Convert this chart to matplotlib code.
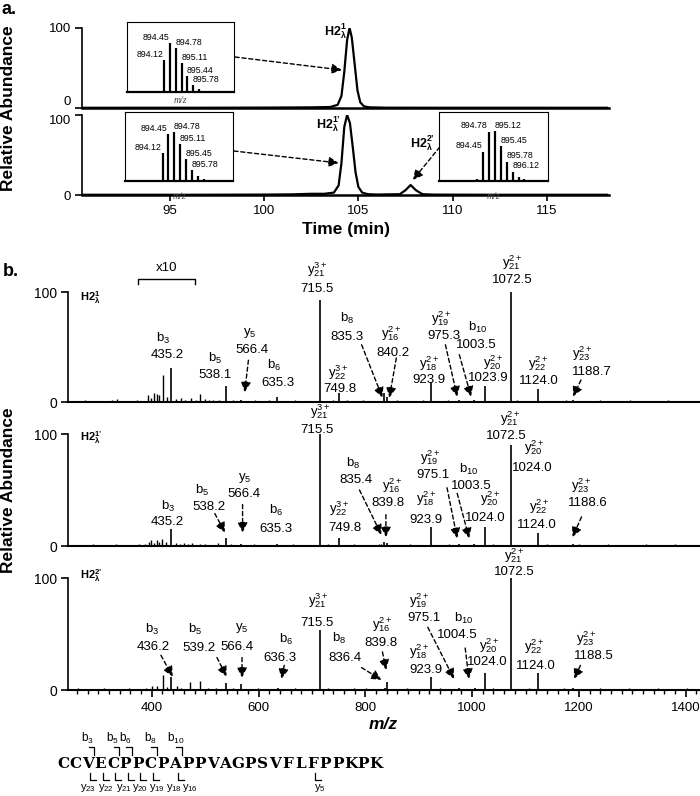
import matplotlib
matplotlib.use("Agg")
from matplotlib import pyplot as plt
from matplotlib.ticker import MultipleLocator

plt.rcParams["font.family"] = ["Liberation Sans", "DejaVu Sans"]
plt.rcParams["mathtext.fontset"] = "custom"
plt.rcParams["mathtext.rm"] = "Liberation Sans"
plt.rcParams["mathtext.it"] = "Liberation Sans:italic"
plt.rcParams["mathtext.bf"] = "Liberation Sans:bold"

W, H = 700, 796

# ---------------- panel a: extracted ion chromatograms ----------------
xic1_time = [90.4, 96, 100, 102.5, 103.5, 103.9, 104.1, 104.25, 104.4, 104.53, 104.65,
             104.8, 104.95, 105.1, 105.3, 105.6, 106.5, 110, 118.2]
xic1_int = [0.3, 0.3, 0.5, 0.8, 1.2, 4, 15, 45, 85, 100, 88, 55, 22, 7, 2, 0.8, 0.4, 0.3, 0.3]

xic2_time = [90.4, 96, 100, 101.5, 102.5, 103.2, 103.7, 103.95, 104.1, 104.25, 104.4, 104.55,
             104.7, 104.85, 105.0, 105.2, 105.5, 106, 107.2, 107.5, 107.77, 108.05, 108.4,
             109, 112, 118.2]
xic2_int = [0.3, 0.3, 0.5, 0.8, 1.5, 1.5, 3, 12, 40, 85, 100, 90, 60, 28, 10, 3, 1, 0.6, 1,
            6, 12.5, 6, 1, 0.5, 0.3, 0.3]
time_ticks = [95, 100, 105, 110, 115]

# isotope envelopes shown in the insets
iso1_mz = [894.12, 894.45, 894.78, 895.11, 895.44, 895.78, 896.11, 896.44]
iso1_int = [65, 100, 89, 59, 32, 14, 7, 2]
iso1_lab = ["894.12", "894.45", "894.78", "895.11", "895.44", "895.78", "", ""]

iso2_mz = [894.12, 894.45, 894.78, 895.11, 895.45, 895.78, 896.11, 896.44]
iso2_int = [57, 97, 100, 75, 44, 22, 10, 4]
iso2_lab = ["894.12", "894.45", "894.78", "895.11", "895.45", "895.78", "", ""]

iso3_mz = [894.12, 894.45, 894.78, 895.12, 895.45, 895.78, 896.12, 896.45, 896.78]
iso3_int = [4, 59, 99, 100, 70, 39, 19, 9, 4]
iso3_lab = ["", "894.45", "894.78", "895.12", "895.45", "895.78", "896.12", "", ""]

# ---------------- panel b: MS/MS spectra ----------------
spec1_mz = [435.2, 538.1, 566.4, 635.3, 715.5, 749.8, 835.3, 840.2, 923.9, 975.3, 1003.5,
            1023.9, 1072.5, 1124.0, 1188.7]
spec1_int = [31, 15, 2, 5, 93, 8, 8, 5, 18, 2, 1.5, 15, 100, 12, 2]
minor1_mz = [262, 275, 288, 300, 312, 326, 335, 348, 360, 372, 383, 392, 398, 404, 409, 414,
             421, 428, 446, 455, 462, 474, 482, 490, 499, 507, 515, 525, 552, 580, 594, 610,
             620, 652, 668, 684, 700, 726, 740, 765, 780, 796, 812, 826, 860, 878, 893, 908,
             940, 955, 985, 1012, 1040, 1058, 1085, 1100, 1112, 1140, 1160, 1175, 1205, 1222,
             1240, 1258, 1276, 1295, 1312, 1330, 1348, 1366, 1384, 1402]
minor1_int = [1, 1.5, 1, 1.2, 1, 1.5, 3, 1.2, 1, 1.5, 1.2, 6, 4, 8, 7, 6, 25, 5, 3, 4, 2, 4,
              2, 7, 3, 2, 2, 1.5, 1.5, 1.2, 1.5, 1, 1.5, 1.2, 1.5, 1, 1.2, 1, 1.5, 1.5, 1.2,
              1.5, 1, 1.2, 1.5, 1.2, 1, 1.5, 1.2, 1.5, 1.2, 1.2, 1, 1.2, 1.5, 1.2, 1, 1.2, 1,
              1.5, 1.2, 1, 1.5, 1.2, 1, 1.5, 1.2, 1, 1.2, 1.5, 1, 1.2]

spec2_mz = [435.2, 538.2, 566.4, 635.3, 715.5, 749.8, 835.4, 839.8, 923.9, 975.1, 1003.5,
            1024.0, 1072.5, 1124.0, 1188.6]
spec2_int = [15, 7, 1.5, 2, 100, 7, 4, 3, 17, 1.5, 1.5, 17, 90, 12, 1.5]
minor2_mz = [262, 275, 290, 305, 318, 333, 347, 362, 376, 388, 394, 399, 404, 409, 414, 420,
             426, 446, 452, 460, 468, 476, 490, 500, 512, 524, 548, 560, 578, 592, 606, 622,
             648, 664, 680, 696, 730, 742, 760, 778, 795, 812, 826, 830, 850, 866, 884, 900,
             912, 940, 956, 990, 1012, 1040, 1056, 1090, 1106, 1140, 1156, 1172, 1200, 1218,
             1236, 1254, 1272, 1290, 1308, 1326, 1344, 1362, 1380, 1398, 1414]
minor2_int = [1.2, 1, 1.5, 1.2, 1, 1.5, 1.2, 1, 1.5, 2, 4, 5, 3, 5, 4, 6, 4, 3, 2, 3, 2, 2.5,
              2, 1.5, 1.2, 3, 1.5, 1.2, 1, 1.5, 1.2, 1, 1.2, 1.5, 1, 1.2, 1.5, 1.2, 1, 1.5,
              1.2, 1, 1.5, 2, 1.2, 1, 1.5, 1.2, 1, 1.2, 1.5, 1.2, 1, 1.5, 1.2, 1, 1.2, 1.5, 1,
              1.2, 1.5, 1.2, 1, 1.5, 1.2, 1, 1.2, 1.5, 1, 1.2, 1.5, 1, 1.2]

spec3_mz = [436.2, 539.2, 566.4, 636.3, 715.5, 836.4, 839.8, 923.9, 975.1, 1004.5, 1024.0,
            1072.5, 1124.0, 1188.5]
spec3_int = [12, 6, 5, 2, 54, 2, 7, 12, 1.5, 1.5, 15, 100, 15, 1.5]
minor3_mz = [262, 278, 294, 310, 326, 342, 358, 374, 390, 400, 410, 421, 428, 447, 455, 471,
             490, 505, 520, 552, 580, 598, 615, 650, 668, 690, 730, 745, 760, 778, 801, 818,
             860, 878, 895, 910, 940, 958, 990, 1040, 1056, 1090, 1106, 1140, 1156, 1172, 1205,
             1222, 1240, 1258, 1276, 1294, 1312, 1330, 1348, 1366, 1384, 1402]
minor3_int = [1.5, 1.2, 1, 1.5, 1.2, 1, 1.5, 1.2, 2, 4, 4, 13, 3, 4, 2, 7, 8, 2, 1.5, 1.5, 1.2,
              1.5, 1.2, 1, 1.5, 1.2, 1.5, 1.2, 1, 1.5, 2, 1.2, 1, 1.5, 1.2, 1, 1.5, 1.2, 1,
              1.5, 1.2, 1, 1.5, 1.2, 1, 1.5, 1.2, 1, 1.5, 1.2, 1, 1.5, 1.2, 1, 1.5, 1.2, 1,
              1.5]
mz_ticks = [400, 600, 800, 1000, 1200, 1400]

# fragment annotations: ion, value, name pos, value pos (m/z, %), dashed arrow
spec1_labels = [
    ("b_{3}", "435.2", (421, 58), (428, 43), None),
    ("b_{5}", "538.1", (518, 40), (518, 25), None),
    ("y_{5}", "566.4", (583, 63), (587, 47), ((581, 38), (574, 9))),
    ("b_{6}", "635.3", (630, 33), (636, 17), None),
    ("y_{21}^{3+}", "715.5", (710, 120), (709, 103), None),
    ("y_{22}^{3+}", "749.8", (750, 27), (752, 12), None),
    ("b_{8}", "835.3", (766, 76), (766, 59), ((793, 52), (832, 4))),
    ("y_{16}^{2+}", "840.2", (849, 62), (851, 45), ((858, 40), (845, 4))),
    ("y_{18}^{2+}", "923.9", (920, 35), (920, 20), None),
    ("y_{19}^{2+}", "975.3", (942, 76), (948, 60), ((950, 52), (972, 5))),
    ("b_{10}", "1003.5", (1011, 68), (1008, 52), ((976, 43), (998, 5))),
    ("y_{20}^{2+}", "1023.9", (1039, 36), (1030, 22), None),
    ("y_{21}^{2+}", "1072.5", (1075, 127), (1075, 111), None),
    ("y_{22}^{2+}", "1124.0", (1123, 35), (1125, 19), None),
    ("y_{23}^{2+}", "1188.7", (1206, 44), (1224, 27), ((1204, 20), (1189, 5))),
]
spec2_labels = [
    ("y_{21}^{3+}", "715.5", (716, 120), (709, 104), None),
    ("y_{21}^{2+}", "1072.5", (1071, 114), (1064, 98), None),
    ("b_{8}", "835.4", (778, 74), (783, 59), ((789, 50), (830, 10))),
    ("y_{16}^{2+}", "839.8", (851, 54), (843, 38), ((838.5, 28), (838.5, 8))),
    ("y_{19}^{2+}", "975.1", (922, 79), (926, 63), ((953, 52), (972, 7))),
    ("b_{10}", "1003.5", (994.5, 68), (998, 54), ((972, 47), (994.5, 7))),
    ("y_{20}^{2+}", "1024.0", (1117, 88), (1113, 70), None),
    ("y_{18}^{2+}", "923.9", (914, 42), (914, 23), None),
    ("y_{20}^{2+}", "1024.0", (1033, 42), (1025, 25), None),
    ("y_{22}^{2+}", "1124.0", (1125, 35), (1121, 19), None),
    ("y_{23}^{2+}", "1188.6", (1205, 54), (1216, 38), ((1205, 26), (1188, 8))),
    ("y_{22}^{3+}", "749.8", (751, 33), (761, 16), None),
    ("b_{3}", "435.2", (430, 35), (428, 21), None),
    ("b_{5}", "538.2", (495, 50), (507, 35), ((518, 29), (537, 12))),
    ("y_{5}", "566.4", (575, 61), (572, 46), ((570, 37), (570, 12))),
    ("b_{6}", "635.3", (632, 32), (632, 15), None),
]
spec3_labels = [
    ("y_{21}^{2+}", "1072.5", (1079, 120), (1079, 105), None),
    ("y_{21}^{3+}", "715.5", (712, 80), (709, 60), None),
    ("b_{3}", "436.2", (400, 54), (402, 38), ((417, 31), (439, 12))),
    ("b_{5}", "539.2", (481, 54), (488, 37.5), ((522, 29), (540, 12))),
    ("y_{5}", "566.4", (568, 55), (560, 38), ((569, 29), (569, 11))),
    ("b_{6}", "636.3", (652, 45), (640, 29), ((648, 22), (643, 10))),
    ("b_{8}", "836.4", (751, 46), (762, 29), ((793, 20), (830, 9))),
    ("y_{16}^{2+}", "839.8", (832, 58), (830, 42), ((832, 34), (839, 18))),
    ("y_{19}^{2+}", "975.1", (901, 80), (910, 64), ((917, 56), (966, 10))),
    ("b_{10}", "1004.5", (985, 64), (973, 49), ((987, 37.5), (994, 10))),
    ("y_{18}^{2+}", "923.9", (901, 34), (914, 18), None),
    ("y_{20}^{2+}", "1024.0", (1032, 40), (1029, 25), None),
    ("y_{22}^{2+}", "1124.0", (1116, 39), (1119, 21), None),
    ("y_{23}^{2+}", "1188.5", (1213, 46), (1228, 30), ((1203, 22), (1191, 10))),
]

sequence = "CCVECPPCPAPPVAGPSVFLFPPKPK"
b_ions = [3, 5, 6, 8, 10]
y_ions = [23, 22, 21, 20, 19, 18, 16, 5]

fig = plt.figure(figsize=(W / 100, H / 100), dpi=100)


def box(x0, y0, x1, y1):
    # axes placed with pixel edges of the 700x796 canvas
    return fig.add_axes([x0 / W, 1 - y1 / H, (x1 - x0) / W, (y1 - y0) / H])


def arrow(ax, start, end):
    ax.annotate("", xy=end, xytext=start,
                arrowprops=dict(arrowstyle="-|>,head_length=0.6,head_width=0.3",
                                linestyle=(0, (3, 2)), lw=1, color="black",
                                shrinkA=0, shrinkB=0),
                annotation_clip=False)


def style_axis(ax, lw_bottom=1.8):
    ax.spines["top"].set_visible(False)
    ax.spines["right"].set_visible(False)
    ax.spines["left"].set_linewidth(1.2)
    ax.spines["bottom"].set_linewidth(lw_bottom)
    ax.set_ylim(0, 100)
    ax.set_yticks([0, 100])
    ax.tick_params(axis="y", direction="out", length=5, width=1.2, labelsize=9.5, pad=3)
    ax.patch.set_alpha(0)


# ---- panel a
fig.text(1 / W, 1 - 9 / H, "a.", fontsize=13, fontweight="bold", ha="left", va="center")

ax_a1 = box(82, 28, 609, 108)
ax_a1.plot(xic1_time, xic1_int, color="black", lw=1.6)
style_axis(ax_a1)
ax_a1.set_xlim(90.33, 118.3)
ax_a1.tick_params(axis="x", bottom=False, labelbottom=False)
ax_a1.get_yticklabels()[0].set_va("bottom")

ax_a2 = box(82, 115, 609, 195)
ax_a2.plot(xic2_time, xic2_int, color="black", lw=1.6)
style_axis(ax_a2)
ax_a2.set_xlim(90.33, 118.3)
ax_a2.set_xticks(time_ticks)
ax_a2.tick_params(axis="x", direction="out", length=4, width=1.2, labelsize=9.5)
ax_a2.set_xlabel("Time (min)", fontsize=12.5, fontweight="bold", labelpad=3)
ax_a2.get_yticklabels()[1].set_va("top")

fig.text(9 / W, 1 - 108 / H, "Relative Abundance", rotation=90, fontsize=12.5,
         fontweight="bold", ha="center", va="center")

ax_a1.text(104.39, 96, r"$\mathbf{H2}_{\mathbf{λ}}^{\mathbf{1}}$", fontsize=9,
           ha="right", va="center")
ax_a2.text(104.07, 89, r"$\mathbf{H2}_{\mathbf{λ}}^{\mathbf{1’}}$", fontsize=9,
           ha="right", va="center")
ax_a2.text(109.06, 65, r"$\mathbf{H2}_{\mathbf{λ}}^{\mathbf{2’}}$", fontsize=9,
           ha="right", va="center")
arrow(ax_a1, (98.45, 63.75), (104.12, 47.5))
arrow(ax_a2, (98.39, 55), (103.96, 40))
arrow(ax_a2, (109.32, 60), (107.89, 18.75))


def inset(rect, mz, inten, labels, ytop, n_right, mz_dy):
    ax = box(*rect)
    ax.vlines(mz, 0, inten, color="black", lw=1.6)
    ax.set_xlim(892, 898.1)
    ax.set_ylim(0, ytop)
    ax.set_xticks([])
    ax.set_yticks([])
    for s in ax.spines.values():
        s.set_linewidth(0.8)
    ax.spines["bottom"].set_linewidth(1.6)
    k = 0
    for x, h, lab in zip(mz, inten, labels):
        if not lab:
            continue
        if k < n_right:
            ax.text(x - 0.05, h + 2, lab, fontsize=6.3, ha="right", va="bottom")
        else:
            ax.text(x - 0.02, h + 2, lab, fontsize=6.3, ha="left", va="bottom")
        k += 1
    ax.text(0.5, mz_dy, "m/z", transform=ax.transAxes, fontsize=7, style="italic",
            family="Liberation Serif", color="#444444", ha="center", va="center")


inset((127, 22, 234, 92), iso1_mz, iso1_int, iso1_lab, 143, 2, -0.12)
inset((125, 112, 233, 181), iso2_mz, iso2_int, iso2_lab, 141, 2, -0.23)
inset((439, 112, 548, 181), iso3_mz, iso3_int, iso3_lab, 138, 2, -0.23)

# ---- panel b
fig.text(3 / W, 1 - 271 / H, "b.", fontsize=13, fontweight="bold", ha="left", va="center")

spectra = [
    ((68, 292, 699, 402), spec1_mz, spec1_int, minor1_mz, minor1_int, spec1_labels,
     r"$\mathbf{H2}_{\mathbf{λ}}^{\mathbf{1}}$", 95),
    ((68, 434, 699, 546), spec2_mz, spec2_int, minor2_mz, minor2_int, spec2_labels,
     r"$\mathbf{H2}_{\mathbf{λ}}^{\mathbf{1’}}$", 97),
    ((68, 578, 699, 690), spec3_mz, spec3_int, minor3_mz, minor3_int, spec3_labels,
     r"$\mathbf{H2}_{\mathbf{λ}}^{\mathbf{2’}}$", 102),
]
axes_b = []
for rect, mz, inten, mmz, mint, labels, tag, tag_y in spectra:
    ax = box(*rect)
    ax.vlines(mmz, 0, mint, color="black", lw=1)
    ax.vlines(mz, 0, inten, color="black", lw=1.2)
    style_axis(ax, lw_bottom=1.5)
    ax.set_xlim(243, 1425)
    ax.tick_params(axis="y", labelsize=10)
    ax.tick_params(axis="x", bottom=False, labelbottom=False)
    ax.text(265, tag_y, tag, fontsize=8, ha="left", va="center")
    for name, value, npos, vpos, arr in labels:
        ax.text(npos[0], npos[1], r"$\mathregular{%s}$" % name, fontsize=9.5,
                ha="center", va="center", clip_on=False)
        ax.text(vpos[0], vpos[1], value, fontsize=9.5, ha="center", va="center",
                clip_on=False)
        if arr is not None:
            arrow(ax, arr[0], arr[1])
    axes_b.append(ax)

# x10 zoom bracket on the first spectrum
axes_b[0].plot([374, 374, 481, 481], [107, 112, 112, 107], color="black", lw=1,
               clip_on=False)
axes_b[0].text(428, 122, "x10", fontsize=9.5, ha="center", va="center")

ax_b3 = axes_b[2]
ax_b3.set_xticks(mz_ticks)
ax_b3.xaxis.set_minor_locator(MultipleLocator(20))
ax_b3.tick_params(axis="x", which="major", bottom=True, labelbottom=True, direction="out",
                  length=5, width=1.2, labelsize=9.5)
ax_b3.tick_params(axis="x", which="minor", direction="out", length=3, width=1)
ax_b3.set_xlabel("m/z", fontsize=12.5, fontweight="bold", style="italic", labelpad=2)

fig.text(9 / W, 1 - 490 / H, "Relative Abundance", rotation=90, fontsize=12.5,
         fontweight="bold", ha="center", va="center")

# ---- peptide sequence with fragment brackets (x in residue units)
ax_s = box(0, 728, 700, 796)
ax_s.set_xlim(-56.7 / 12.5, (700 - 56.7) / 12.5)
ax_s.set_ylim(796, 728)
ax_s.axis("off")
for i, aa in enumerate(sequence):
    ax_s.text(i + 0.5, 764, aa, fontsize=11, fontweight="bold", family="DejaVu Serif",
              ha="center", va="center")
for n in b_ions:
    ax_s.plot([n - 0.45, n, n], [747, 747, 755], color="black", lw=0.9)
    ax_s.text(n - 0.5, 738, r"$\mathregular{b_{%d}}$" % n, fontsize=8.5, ha="center",
              va="center")
y_label_x = [2.5, 3.95, 5.4, 6.7, 8.0, 9.4, 10.7, 21.06]
for n, lx in zip(y_ions, y_label_x):
    k = len(sequence) - n
    ax_s.plot([k - 0.3, k - 0.3, k + 0.15], [773, 780, 780], color="black", lw=0.9)
    ax_s.text(lx, 788, r"$\mathregular{y_{%d}}$" % n, fontsize=8, ha="center",
              va="center")

fig.savefig("out.png", dpi=100, facecolor="white")
